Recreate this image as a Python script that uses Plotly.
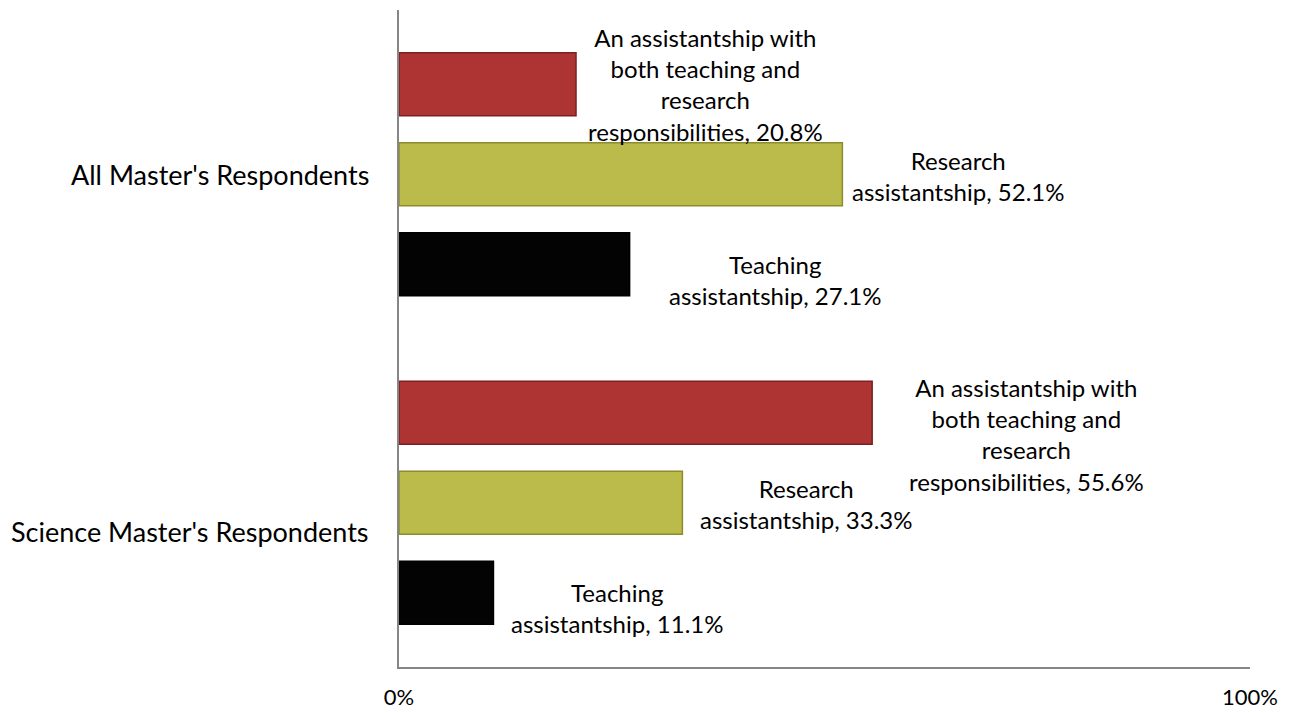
import plotly.graph_objects as go

categories = ["Science Master's Respondents", "All Master's Respondents"]
series_names = [
    "Teaching assistantship",
    "Research assistantship",
    "An assistantship with both teaching and research responsibilities",
]
label_text = [
    "Teaching<br>assistantship",
    "Research<br>assistantship",
    "An assistantship with<br>both teaching and<br>research<br>responsibilities",
]
teaching = [11.1, 27.1]
research = [33.3, 52.1]
both_roles = [55.6, 20.8]
values = [teaching, research, both_roles]

colors = ["#030303", "#BBBB4B", "#AE3434"]
line_colors = ["#000000", "#8C8C2E", "#7A2020"]

# label offsets (pixels) relative to bar end / bar centre: [Science, All]
label_dx = [[124, 145], [124, 116], [154, 129]]
label_dy = [[-15, -16], [-1, -2], [-22, 0]]

# page has an 8px body margin; figure sized to fit the window
W, H = 1275, 705
ml, mr, mt, mb = 391, 33, 2, 46
bargap = 0.178
bargroupgap = 0.3
FONT = "Lato"

fig = go.Figure()
for i, (name, vals) in enumerate(zip(series_names, values)):
    fig.add_trace(go.Bar(
        y=categories, x=vals, name=name, orientation="h",
        marker=dict(color=colors[i], line=dict(color=line_colors[i], width=1.5)),
        hoverinfo="x+name",
    ))

plot_h = H - mt - mb
band = plot_h / len(categories)
slot = band * (1 - bargap) / len(series_names)

annotations = []
for i, vals in enumerate(values):
    slot_offset = (i - (len(series_names) - 1) / 2) * slot
    for j, v in enumerate(vals):
        annotations.append(dict(
            x=v, y=categories[j], xref="x", yref="y",
            text=f"{label_text[i]}, {v:.1f}%",
            showarrow=False, xanchor="center", yanchor="middle", align="center",
            xshift=label_dx[i][j], yshift=slot_offset + label_dy[i][j],
            font=dict(family=FONT, size=24, color="#000000"),
        ))

cat_dy = [-29, 0]
for j, c in enumerate(categories):
    annotations.append(dict(
        x=0, y=c, xref="paper", yref="y", text=c, showarrow=False,
        xanchor="right", yanchor="middle", xshift=-28, yshift=cat_dy[j],
        font=dict(family=FONT, size=27, color="#000000"),
    ))

fig.update_layout(
    width=W, height=H,
    margin=dict(l=ml, r=mr, t=mt, b=mb, pad=0, autoexpand=False),
    barmode="group", bargap=bargap, bargroupgap=bargroupgap,
    plot_bgcolor="white", paper_bgcolor="white",
    showlegend=False,
    annotations=annotations,
    font=dict(family=FONT, size=22, color="#000000"),
    xaxis=dict(
        range=[0, 100], tickvals=[0, 100], ticktext=["0%", "100%"],
        showgrid=False, zeroline=False, showline=True, linecolor="#868686", linewidth=1.5,
        ticks="", ticklabelstandoff=10, tickfont=dict(family=FONT, size=22),
        automargin=False, fixedrange=True,
    ),
    yaxis=dict(
        categoryorder="array", categoryarray=categories,
        showgrid=False, zeroline=False, showline=True, linecolor="#868686", linewidth=1.5,
        showticklabels=False, ticks="", automargin=False, fixedrange=True,
    ),
)

fig.write_html("out.html")
